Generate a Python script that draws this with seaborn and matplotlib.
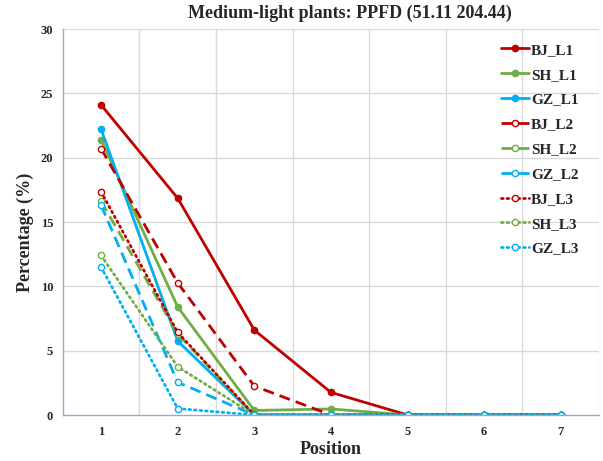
import matplotlib
matplotlib.use("Agg")
import matplotlib.pyplot as plt
import seaborn as sns
import pandas as pd

positions = [1, 2, 3, 4, 5, 6, 7]
BJ_L1 = [24.1, 16.85, 6.6, 1.76, 0, 0, 0]
SH_L1 = [21.4, 8.4, 0.35, 0.47, 0, 0, 0]
GZ_L1 = [22.2, 5.75, 0, 0, 0, 0, 0]
BJ_L2 = [20.7, 10.27, 2.25, 0, 0, 0, 0]
SH_L2 = [16.6, 6.3, 0, 0, 0, 0, 0]
GZ_L2 = [16.3, 2.54, 0, 0, 0, 0, 0]
BJ_L3 = [17.35, 6.42, 0, 0, 0, 0, 0]
SH_L3 = [12.4, 3.75, 0, 0, 0, 0, 0]
GZ_L3 = [11.5, 0.5, 0, 0, 0, 0, 0]

series_names = ["BJ_L1", "SH_L1", "GZ_L1", "BJ_L2", "SH_L2", "GZ_L2", "BJ_L3", "SH_L3", "GZ_L3"]
series_values = [BJ_L1, SH_L1, GZ_L1, BJ_L2, SH_L2, GZ_L2, BJ_L3, SH_L3, GZ_L3]

title = "Medium-light plants: PPFD (51.11 204.44)"
xlabel = "Position"
ylabel = "Percentage (%)"

sns.set_theme(style="white")
plt.rcParams["font.family"] = ["Liberation Serif", "DejaVu Serif"]
plt.rcParams["font.weight"] = "bold"

red, green, blue = "#C00000", "#70AD47", "#00B0F0"
colors = {"BJ": red, "SH": green, "GZ": blue}
styles = {"L1": "-", "L2": (0, (4.0, 2.2)), "L3": (0, (0.6, 1.4))}

fig = plt.figure(figsize=(6.03, 4.61), dpi=100)
ax = fig.add_axes([62.8 / 603, 46 / 461, (599 - 62.8) / 603, (415 - 29) / 461])

for name, vals in zip(series_names, series_values):
    site, lvl = name.split("_")
    c = colors[site]
    df = pd.DataFrame({"Position": positions, "Value": vals})
    sns.lineplot(data=df, x="Position", y="Value", ax=ax, color=c,
                 linestyle=styles[lvl], linewidth=2.0, marker="o", markersize=4.5,
                 markeredgewidth=1.0, markeredgecolor=c,
                 markerfacecolor=c if lvl == "L1" else "white",
                 dash_capstyle="round" if lvl == "L3" else "butt",
                 label=name)

ax.set_xlim(0.5, 7.5)
ax.set_ylim(0, 30)
ax.set_yticks(range(0, 31, 5))
ax.set_xticks(positions)
ax.set_xticks([i + 0.5 for i in range(0, 8)], minor=True)
ax.tick_params(axis="x", which="major", length=0, labelsize=9, pad=8)
ax.tick_params(axis="x", which="minor", length=4, direction="out", color="#8EA9DB", width=1)
ax.tick_params(axis="y", which="major", length=4, direction="out", color="#8EA9DB", width=1, labelsize=9, pad=3)
for lab in ax.get_xticklabels() + ax.get_yticklabels():
    lab.set_fontweight("bold")

ax.grid(False)
for v in range(5, 31, 5):
    ax.axhline(v, color="#D9D9D9", lw=1.0, zorder=0)
for v in [i + 0.5 for i in range(1, 8)]:
    ax.axvline(v, color="#D9D9D9", lw=1.0, zorder=0)

for s in ["top", "right"]:
    ax.spines[s].set_visible(False)
for s in ["left", "bottom"]:
    ax.spines[s].set_color("#8EA9DB")
    ax.spines[s].set_linewidth(1.0)

ax.set_xlabel(xlabel, fontsize=13, fontweight="bold")
ax.xaxis.set_label_coords(0.5, -(449 - 415) / 386, transform=ax.transAxes)
ax.xaxis.label.set_va("center")
ax.set_ylabel(ylabel, fontsize=13, fontweight="bold")
ax.yaxis.set_label_coords((25 - 62.8) / 536.2, (415 - 232) / 386)
ax.yaxis.label.set_va("center")
fig.text(350 / 603, 1 - 13 / 461, title, ha="center", va="center", fontsize=13, fontweight="bold")

leg = ax.legend(loc="upper left", bbox_to_anchor=(495 / 603, 1 - 37 / 461),
                bbox_transform=fig.transFigure, frameon=False, fontsize=11,
                handlelength=1.85, handletextpad=0.1, labelspacing=0.73, borderaxespad=0)
for t in leg.get_texts():
    t.set_fontweight("bold")

fig.savefig("out.png", dpi=100)
